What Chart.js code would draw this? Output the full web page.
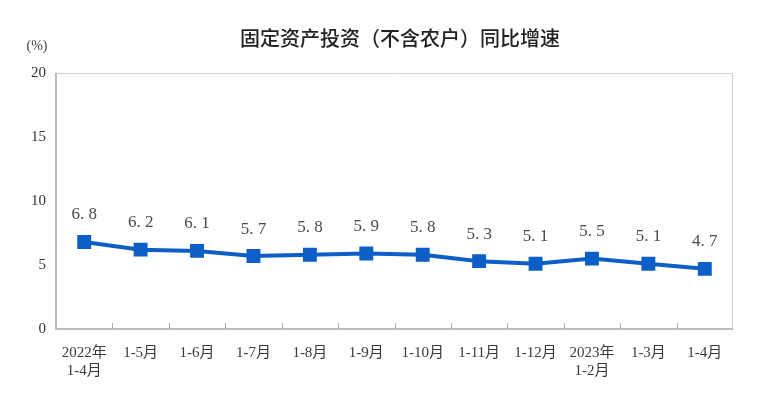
<!DOCTYPE html>
<html>
<head>
<meta charset="utf-8">
<script src="https://cdn.jsdelivr.net/npm/chart.js@4"></script>
<style>
  html, body { margin: 0; padding: 0; background: #fff; }
  #wrap { width: 776px; height: 397px; position: relative; }
</style>
</head>
<body>
<div id="wrap"><canvas id="investChart"></canvas></div>
<script>
// ===== Data =====
const categories = [
    ['2022年', '1-4月'], '1-5月', '1-6月', '1-7月', '1-8月', '1-9月',
    '1-10月', '1-11月', '1-12月', ['2023年', '1-2月'], '1-3月', '1-4月'
];
const growthRate = [6.8, 6.2, 6.1, 5.7, 5.8, 5.9, 5.8, 5.3, 5.1, 5.5, 5.1, 4.7];
const yTicks = [0, 5, 10, 15, 20];

const chartTitle = '固定资产投资（不含农户）同比增速';
const unitLabel = '(%)';

const serif = '"Liberation Serif", "Noto Sans CJK SC", serif';

// Title, unit, frame, inner x tick marks and point labels
const decorPlugin = {
    id: 'decor',
    beforeDatasetsDraw(chart) {
        const { ctx, chartArea: a, scales: { x } } = chart;
        ctx.save();
        // light frame
        ctx.strokeStyle = '#d0d0d0';
        ctx.lineWidth = 1;
        ctx.beginPath();
        ctx.moveTo(a.left, a.top + 0.5);
        ctx.lineTo(a.right - 0.5, a.top + 0.5);
        ctx.lineTo(a.right - 0.5, a.bottom);
        ctx.stroke();
        // axes
        ctx.strokeStyle = '#a8a8a8';
        ctx.lineWidth = 1.5;
        ctx.beginPath();
        ctx.moveTo(a.left, a.top);
        ctx.lineTo(a.left, a.bottom);
        ctx.lineTo(a.right, a.bottom);
        ctx.stroke();
        // tick marks between categories
        ctx.lineWidth = 1;
        for (let i = 1; i < categories.length; i++) {
            const px = Math.round((x.getPixelForValue(i - 1) + x.getPixelForValue(i)) / 2) + 0.5;
            ctx.beginPath();
            ctx.moveTo(px, a.bottom);
            ctx.lineTo(px, a.bottom - 6);
            ctx.stroke();
        }
        ctx.restore();
    },
    afterDatasetsDraw(chart) {
        const { ctx } = chart;
        const meta = chart.getDatasetMeta(0);
        ctx.save();
        ctx.fillStyle = '#4a4a4a';
        ctx.font = '17px ' + serif;
        ctx.textAlign = 'center';
        ctx.textBaseline = 'middle';
        meta.data.forEach((pt, i) => {
            const txt = growthRate[i].toFixed(1).replace('.', '. ');
            ctx.fillText(txt, pt.x, pt.y - 27);
        });
        // title
        ctx.fillStyle = '#222';
        ctx.font = '500 20px "Noto Sans CJK SC", sans-serif';
        ctx.fillText(chartTitle, 400, 38);
        // unit
        ctx.fillStyle = '#444';
        ctx.font = '14px ' + serif;
        ctx.fillText(unitLabel, 37, 46);
        ctx.restore();
    }
};

function initChart() {
    const ctx = document.getElementById('investChart');

    new Chart(ctx, {
        type: 'line',
        data: {
            labels: categories,
            datasets: [{
                data: growthRate,
                borderColor: '#0b5fc6',
                backgroundColor: '#0b5fc6',
                borderWidth: 4,
                pointStyle: 'rect',
                pointRadius: 7,
                pointHoverRadius: 7,
                tension: 0
            }]
        },
        options: {
            responsive: false,
            animation: false,
            layout: { padding: { top: 73, right: 43, left: 0, bottom: 0 } },
            plugins: {
                legend: { display: false },
                tooltip: { enabled: false }
            },
            scales: {
                x: {
                    offset: true,
                    grid: { display: false },
                    border: { display: false },
                    ticks: {
                        color: '#3a3a3a',
                        font: { family: serif, size: 15 },
                        padding: 7,
                        maxRotation: 0,
                        autoSkip: false
                    },
                    afterFit(scale) { scale.height = 68; }
                },
                y: {
                    min: 0,
                    max: 20,
                    afterBuildTicks(scale) {
                        scale.ticks = yTicks.map(v => ({ value: v }));
                    },
                    grid: { display: false },
                    border: { display: false },
                    ticks: {
                        color: '#333',
                        font: { family: serif, size: 15 },
                        padding: 2
                    },
                    afterFit(scale) { scale.width = 56; }
                }
            }
        },
        plugins: [decorPlugin]
    });
}

const cv = document.getElementById('investChart');
cv.width = 776;
cv.height = 397;
initChart();
</script>
</body>
</html>
